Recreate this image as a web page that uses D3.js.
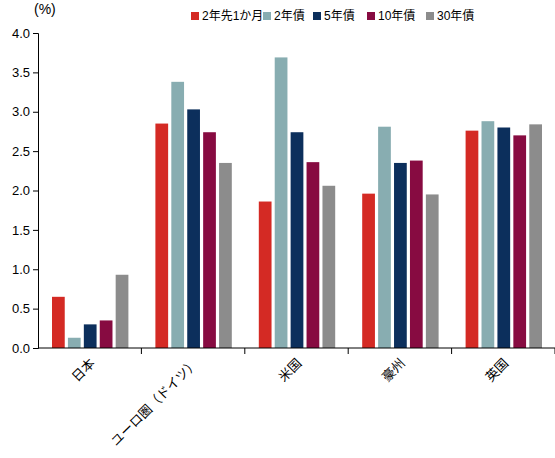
<!DOCTYPE html>
<html><head><meta charset="utf-8">
<script src="https://cdn.jsdelivr.net/npm/d3@7"></script>
<style>body{margin:0;background:#fff;font-family:Arial,"Liberation Sans","Noto Sans CJK JP",sans-serif}</style>
</head><body>
<script>
var categories = ["日本", "ユーロ圏（ドイツ）", "米国", "豪州", "英国"]
var series = ["2年先1か月", "2年債", "5年債", "10年債", "30年債"]
var colors = ["#d42a24", "#88adb1", "#0c2f5c", "#870b41", "#8c8c8c"]
var values = [
  [0.65, 2.85, 1.86, 1.96, 2.76],
  [0.13, 3.38, 3.69, 2.81, 2.88],
  [0.30, 3.03, 2.74, 2.35, 2.80],
  [0.35, 2.74, 2.36, 2.38, 2.70],
  [0.93, 2.35, 2.06, 1.95, 2.84]
]
var yTicks = [0, 0.5, 1, 1.5, 2, 2.5, 3, 3.5, 4]

var svg = d3.select("body").append("svg").attr("width", 555).attr("height", 458)
var mLeft = 38, mRight = 555, mTop = 33, mBottom = 348
var x = d3.scaleBand().domain(categories).range([mLeft, mRight])
var xi = d3.scaleBand().domain(d3.range(series.length)).range([14, x.bandwidth() - 13]).paddingInner(0.2)
var y = d3.scaleLinear().domain([0, 4]).range([mBottom, mTop])

var ya = svg.append("g").attr("transform", "translate(" + mLeft + ",0)")
  .call(d3.axisLeft(y).tickValues(yTicks).tickFormat(d3.format(".1f")).tickSize(5))
ya.selectAll("text").style("font-size", "13px").attr("fill", "#000")
ya.selectAll("line,path").attr("stroke", "#000")

svg.append("text").attr("x", 34).attr("y", 14).text("(%)").style("font-size", "14px")

categories.forEach(function(c, ci) {
  series.forEach(function(s, si) {
    svg.append("rect")
      .attr("x", x(c) + xi(si))
      .attr("width", xi.bandwidth())
      .attr("y", y(values[si][ci]))
      .attr("height", y(0) - y(values[si][ci]))
      .attr("fill", colors[si])
  })
})

var xa = svg.append("g").attr("transform", "translate(0," + mBottom + ")")
xa.append("line").attr("x1", mLeft).attr("x2", mRight).attr("stroke", "#000")
categories.forEach(function(c) {
  xa.append("line").attr("x1", x(c) + x.bandwidth()).attr("x2", x(c) + x.bandwidth())
    .attr("y2", 6).attr("stroke", "#000")
  xa.append("text").attr("text-anchor", "end")
    .attr("transform", "translate(" + (x(c) + x.bandwidth() / 2 + 6) + ",16) rotate(-45)")
    .style("font-size", "13px").text(c)
})

var lx = [191, 263, 313, 367, 426]
series.forEach(function(s, i) {
  var g = svg.append("g").attr("transform", "translate(" + lx[i] + ",12)")
  g.append("rect").attr("width", 8).attr("height", 8).attr("fill", colors[i])
  g.append("text").attr("x", 11).attr("y", 8).style("font-size", "12px").text(s)
})
</script>
</body></html>
